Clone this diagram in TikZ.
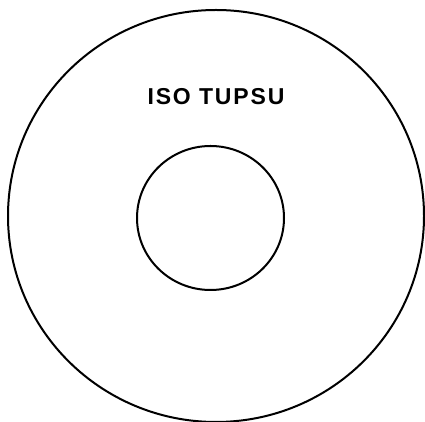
\documentclass[tikz,border=0pt]{standalone}
\usepackage{fontspec}
\setmainfont{Liberation Sans}
\usetikzlibrary{shapes.geometric}
\begin{document}
\begin{tikzpicture}[x=1pt,y=1pt,
  ring/.style={draw=black, line width=2pt, ellipse, inner sep=0pt},
  label/.style={font=\fontsize{23}{28}\selectfont\bfseries\addfontfeature{LetterSpace=8}, inner sep=0pt}]
\useasboundingbox[fill=white] (0,0) rectangle (425,422);
\node[ring, minimum width=416pt, minimum height=412pt] (outer) at (216,206) {};
\node[ring, minimum width=147pt, minimum height=144pt] (inner) at (210.5,204) {};
\node[label] (title) at (216,325) {ISO TUPSU};
\end{tikzpicture}
\end{document}
